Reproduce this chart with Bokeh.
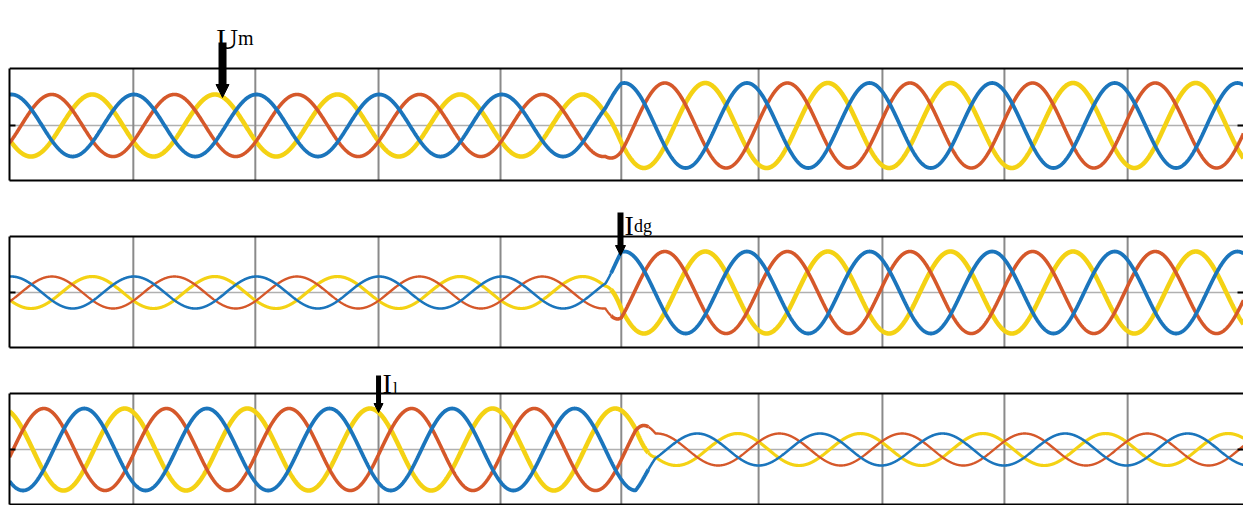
import numpy as np
from bokeh.plotting import figure
from bokeh.layouts import column
from bokeh.models import (Range1d, LinearAxis, FixedTicker, Grid, Arrow, NormalHead, Label, Span)
from bokeh.embed import file_html
from bokeh.resources import INLINE

# ---- values ----
panels = ["Um", "Idg", "Il"]
freq_hz = 50.0
t_end = 0.2013
# per-unit amplitudes before / after the switching event
amp_before = [0.73, 0.39, 1.0]
amp_after = [1.0, 1.0, 0.39]
# switching transition (s)
ramp_start = [0.0972, 0.0972, 0.1021]
ramp_end = [0.0998, 0.0998, 0.1054]
# time of first peak, as a fraction of a cycle
blue_peak = [0.015, 0.015, 0.61]
orange_peak = [0.345, 0.345, 0.28]
yellow_peak = [0.675, 0.675, -0.06]
# vertical grid positions (s)
grid_ticks = [0.0202, 0.0401, 0.0602, 0.0801, 0.0998, 0.1222, 0.1424, 0.1623, 0.1824]

# label / arrow placement (data units)
arrow_t = [0.03475, 0.09967, 0.0602]
arrow_y0 = [1.953, 1.951, 1.805]
arrow_y1 = [0.659, 0.902, 0.902]
label_main = ["U", "I", "I"]
label_sub = ["m", "dg", "l"]

# ---- styling / layout ----
BLUE = "#1b75bc"
ORANGE = "#d5582a"
YELLOW = "#f4d214"
W = 1243
layout_spec = [  # height, border bottom, y_lo, y_hi, box_top
    (182, 2, -1.294, 2.941, 1.341),
    (167, 2, -1.341, 2.683, 1.366),
    (156, 1, -1.341, 2.439, 1.366),
]
label_pos = [  # (t main, y main, t sub, y sub, size main, size sub, arrow width, head)
    (0.03377, 2.047, 0.03728, 2.047, "30px", "20px", 8, 13),
    (0.10033, 1.634, 0.10188, 1.634, "28px", "18px", 6, 10),
    (0.06085, 1.610, 0.06256, 1.490, "28px", "17px", 5, 9),
]
# (colour, width on large-amplitude part, width on small-amplitude part)
styles = [(YELLOW, 4.6, 3.2), (ORANGE, 3.6, 2.4), (BLUE, 3.8, 2.6)]

t = np.linspace(0.0, t_end, 4001)


def envelope(i):
    return np.interp(t, [ramp_start[i], ramp_end[i]], [amp_before[i], amp_after[i]])


def frame_axis(minor, tick_in, show_line=True, bounds="auto"):
    ax = LinearAxis(ticker=FixedTicker(ticks=[], minor_ticks=minor), bounds=bounds)
    ax.major_tick_in = 0
    ax.major_tick_out = 0
    ax.minor_tick_in = tick_in
    ax.minor_tick_out = 0
    ax.minor_tick_line_color = "black"
    ax.minor_tick_line_width = 2
    ax.major_label_standoff = 0
    ax.axis_line_color = "black" if show_line else None
    ax.axis_line_width = 2
    return ax


figs = []
for i, name in enumerate(panels):
    h, bb, ylo, yhi, box_top = layout_spec[i]
    p = figure(width=W, height=h, x_range=Range1d(0, t_end), y_range=Range1d(ylo, yhi),
               output_backend="svg", toolbar_location=None,
               x_axis_location=None, y_axis_location=None,
               min_border_left=9, min_border_right=0,
               min_border_top=0, min_border_bottom=bb)
    p.outline_line_color = None
    p.background_fill_color = "white"
    p.border_fill_color = "white"
    for g in p.grid:
        g.visible = False

    p.add_layout(frame_axis([0], 6, bounds=(ylo, box_top)), "left")
    p.add_layout(frame_axis([0], 6, show_line=False, bounds=(ylo, box_top)), "right")
    p.add_layout(frame_axis([], 0), "below")
    p.add_layout(Span(location=box_top, dimension="width", line_color="black", line_width=2))

    # zero line and vertical division lines (inside the box only)
    p.add_layout(Grid(dimension=1, ticker=FixedTicker(ticks=[0]),
                      grid_line_color="#b0b0b0", grid_line_width=1.5))
    p.segment(x0=grid_ticks, y0=[ylo] * len(grid_ticks), x1=grid_ticks,
              y1=[box_top] * len(grid_ticks), line_color="#8a8a8a", line_width=2)

    env = envelope(i)
    big = env >= 0.6
    small = ~big
    # let the two parts meet without a gap
    small = small | np.roll(small, 1) | np.roll(small, -1)
    series = [
        env * np.cos(2 * np.pi * (freq_hz * t - yellow_peak[i])),
        env * np.cos(2 * np.pi * (freq_hz * t - orange_peak[i])),
        env * np.cos(2 * np.pi * (freq_hz * t - blue_peak[i])),
    ]
    for y, (col, wb, ws) in zip(series, styles):
        p.line(t, np.where(big, y, np.nan), line_color=col, line_width=wb)
        if small.any():
            p.line(t, np.where(small, y, np.nan), line_color=col, line_width=ws)

    tm, ym, ts, ys, fm, fs, aw, hs = label_pos[i]
    p.add_layout(Arrow(end=NormalHead(size=hs, fill_color="black", line_color="black"),
                       x_start=arrow_t[i], y_start=arrow_y0[i],
                       x_end=arrow_t[i], y_end=arrow_y1[i],
                       line_color="black", line_width=aw))
    p.add_layout(Label(x=tm, y=ym, text=label_main[i], text_font="Liberation Serif",
                       text_font_size=fm, text_color="black",
                       text_align="left", text_baseline="alphabetic"))
    p.add_layout(Label(x=ts, y=ys, text=label_sub[i], text_font="Liberation Serif",
                       text_font_size=fs, text_color="black",
                       text_align="left", text_baseline="alphabetic"))
    figs.append(p)

layout = column(*figs, spacing=0)
open("out.html", "w").write(file_html(layout, INLINE))
